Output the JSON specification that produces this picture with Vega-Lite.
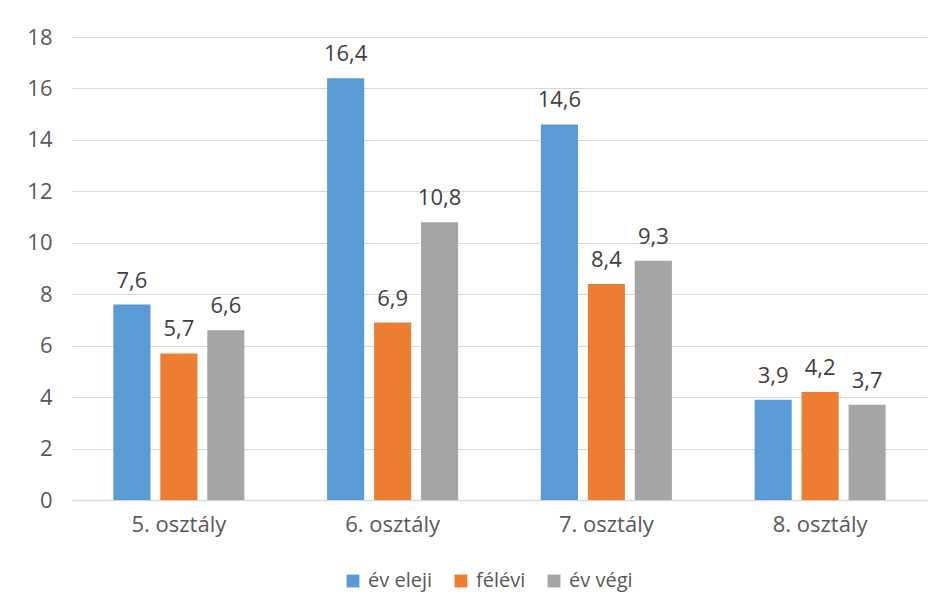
{
  "$schema": "https://vega.github.io/schema/vega-lite/v6.json",
  "width": 855,
  "height": 463,
  "autosize": "none",
  "padding": {"left": 72, "top": 37, "right": 16, "bottom": 115},
  "background": "white",
  "config": {
    "view": {"stroke": null},
    "font": "Open Sans",
    "locale": {"number": {"decimal": ",", "thousands": " ", "grouping": [3], "currency": ["", ""]}}
  },
  "data": {
    "values": [
      {"osztaly": "5. osztály", "sorozat": "év eleji", "ertek": 7.6},
      {"osztaly": "5. osztály", "sorozat": "félévi", "ertek": 5.7},
      {"osztaly": "5. osztály", "sorozat": "év végi", "ertek": 6.6},
      {"osztaly": "6. osztály", "sorozat": "év eleji", "ertek": 16.4},
      {"osztaly": "6. osztály", "sorozat": "félévi", "ertek": 6.9},
      {"osztaly": "6. osztály", "sorozat": "év végi", "ertek": 10.8},
      {"osztaly": "7. osztály", "sorozat": "év eleji", "ertek": 14.6},
      {"osztaly": "7. osztály", "sorozat": "félévi", "ertek": 8.4},
      {"osztaly": "7. osztály", "sorozat": "év végi", "ertek": 9.3},
      {"osztaly": "8. osztály", "sorozat": "év eleji", "ertek": 3.9},
      {"osztaly": "8. osztály", "sorozat": "félévi", "ertek": 4.2},
      {"osztaly": "8. osztály", "sorozat": "év végi", "ertek": 3.7}
    ]
  },
  "encoding": {
    "x": {
      "field": "osztaly", "type": "nominal", "sort": null,
      "scale": {"paddingInner": 0.387, "paddingOuter": 0.1935},
      "axis": {"title": null, "labelAngle": 0, "labelFontSize": 22, "labelColor": "#595959", "labelPadding": 14, "ticks": false, "domainColor": "#D9D9D9", "domainWidth": 1.5, "grid": false}
    },
    "xOffset": {
      "field": "sorozat", "type": "nominal", "sort": ["év eleji", "félévi", "év végi"],
      "scale": {"paddingInner": 0.21, "paddingOuter": 0}
    },
    "y": {
      "field": "ertek", "type": "quantitative",
      "scale": {"domain": [0, 18], "nice": false},
      "axis": {"title": null, "values": [0, 2, 4, 6, 8, 10, 12, 14, 16, 18], "format": "d", "labelFontSize": 22, "labelColor": "#595959", "labelPadding": 20, "ticks": false, "domain": false, "gridColor": "#D9D9D9", "gridWidth": 1.2}
    }
  },
  "layer": [
    {
      "mark": {"type": "bar"},
      "encoding": {
        "color": {
          "field": "sorozat", "type": "nominal", "sort": ["év eleji", "félévi", "év végi"],
          "scale": {"domain": ["év eleji", "félévi", "év végi"], "range": ["#5B9BD5", "#ED7D31", "#A5A5A5"]},
          "legend": {
            "title": null, "orient": "none", "direction": "horizontal", "legendX": 271, "legendY": 534,
            "symbolType": "square", "symbolSize": 165, "symbolStrokeWidth": 0,
            "labelFontSize": 20, "labelColor": "#595959", "columnPadding": 18, "labelOffset": 5
          }
        }
      }
    },
    {
      "mark": {"type": "text", "baseline": "bottom", "dy": -12, "fontSize": 22, "color": "#404040"},
      "encoding": {
        "text": {"field": "ertek", "type": "quantitative", "format": ".1f"}
      }
    }
  ]
}
